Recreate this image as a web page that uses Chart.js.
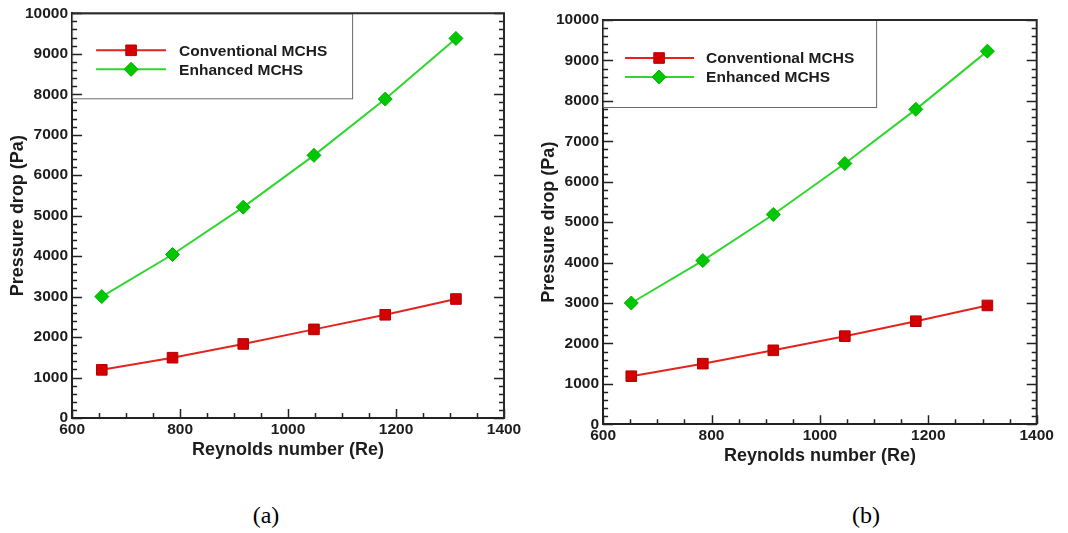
<!DOCTYPE html>
<html lang="en">
<head>
<meta charset="UTF-8" />
<title>Pressure drop vs Reynolds number</title>
<script src="https://cdn.jsdelivr.net/npm/chart.js"></script>
<style>
  html, body { margin: 0; padding: 0; background: #fff; }
  body { width: 1068px; height: 533px; position: relative; overflow: hidden; }
  .panel { position: absolute; top: 0; height: 480px; }
  #panelA { left: 0; width: 534px; }
  #panelB { left: 531px; width: 537px; }
  .caption {
    position: absolute; top: 502px; transform: translateX(-50%);
    font-family: "Liberation Serif", "Times New Roman", serif; font-size: 24px; color: #000;
  }
</style>
</head>
<body>
<div class="panel" id="panelA"><canvas id="chartA"></canvas></div>
<div class="panel" id="panelB"><canvas id="chartB"></canvas></div>
<div class="caption" style="left:266px">(a)</div>
<div class="caption" style="left:866px">(b)</div>

<script>
  // values
  const seriesNames = ['Conventional MCHS', 'Enhanced MCHS'];
  const reA = [655, 786, 917, 1048, 1180, 1311];
  const conventionalA = [1190, 1490, 1830, 2190, 2550, 2940];
  const enhancedA = [3000, 4040, 5210, 6490, 7880, 9380];
  const reB = [652, 784, 914, 1046, 1177, 1309];
  const conventionalB = [1190, 1500, 1830, 2180, 2550, 2940];
  const enhancedB = [3000, 4050, 5190, 6450, 7790, 9230];
  const xTicks = [600, 800, 1000, 1200, 1400];
  const yTicks = [0, 1000, 2000, 3000, 4000, 5000, 6000, 7000, 8000, 9000, 10000];

  const FONT = '"Liberation Sans", Arial, sans-serif';
  const INK = '#1c1c1c';
  const RED_LINE = '#e3231d', RED_PT = '#d20000';
  const GREEN_LINE = '#2fd62f', GREEN_PT = '#00c800';

  // inward ticks on left / right / bottom, frame, and the boxed legend
  const framePlugin = {
    id: 'frame',
    afterDraw(chart, args, opts) {
      const ctx = chart.ctx;
      const { left, right, top, bottom } = chart.chartArea;
      const xs = chart.scales.x, ys = chart.scales.y;
      const lg = opts.legend;

      ctx.save();
      // legend box
      ctx.fillStyle = '#fff';
      ctx.fillRect(left, top, lg.w, lg.h);
      ctx.strokeStyle = '#6a6a6a';
      ctx.lineWidth = 1;
      ctx.strokeRect(left + 0.5, top + 0.5, lg.w, lg.h);

      chart.data.datasets.forEach((ds, i) => {
        const yy = top + lg.rows[i];
        ctx.strokeStyle = ds.borderColor;
        ctx.lineWidth = 2;
        ctx.beginPath();
        ctx.moveTo(left + lg.lineFrom, yy);
        ctx.lineTo(left + lg.lineTo, yy);
        ctx.stroke();
        ctx.fillStyle = ds.pointBackgroundColor;
        ctx.strokeStyle = ds.pointBorderColor;
        ctx.lineWidth = 1;
        Chart.helpers.drawPoint(ctx, {
          pointStyle: ds.pointStyle, radius: ds.pointRadius, borderWidth: 1, rotation: 0
        }, left + lg.marker, yy);
        ctx.fillStyle = INK;
        ctx.font = 'bold 15.5px ' + FONT;
        ctx.textBaseline = 'middle';
        ctx.textAlign = 'left';
        ctx.fillText(ds.label, left + lg.text, yy + 1);
      });

      // ticks
      ctx.strokeStyle = '#222';
      ctx.lineWidth = 1.5;
      ctx.beginPath();
      for (let v = xs.min; v <= xs.max; v += 50) {
        const px = Math.round(xs.getPixelForValue(v)) + 0.5;
        const len = v % 200 === 0 ? 9 : 5;
        ctx.moveTo(px, bottom);
        ctx.lineTo(px, bottom - len);
      }
      for (let v = ys.min; v <= ys.max; v += 200) {
        const py = Math.round(ys.getPixelForValue(v)) + 0.5;
        const len = v % 1000 === 0 ? 10 : 5;
        ctx.moveTo(left, py);
        ctx.lineTo(left + len, py);
        ctx.moveTo(right, py);
        ctx.lineTo(right - len, py);
      }
      ctx.stroke();

      // top and right frame
      ctx.strokeStyle = '#2a2a2a';
      ctx.lineWidth = 2;
      ctx.beginPath();
      ctx.moveTo(left, top);
      ctx.lineTo(right, top);
      ctx.lineTo(right, bottom);
      ctx.stroke();
      ctx.restore();
    }
  };

  function makeChart(canvasId, re, conv, enh, pad, legend) {
    const toPoints = (ys) => re.map((x, i) => ({ x: x, y: ys[i] }));
    return new Chart(document.getElementById(canvasId), {
      type: 'line',
      data: {
        datasets: [
          {
            label: seriesNames[0], data: toPoints(conv),
            borderColor: RED_LINE, borderWidth: 2,
            pointStyle: 'rect', pointRadius: 7.5,
            pointBackgroundColor: RED_PT, pointBorderColor: '#b80000', pointBorderWidth: 1
          },
          {
            label: seriesNames[1], data: toPoints(enh),
            borderColor: GREEN_LINE, borderWidth: 2,
            pointStyle: 'rectRot', pointRadius: 7,
            pointBackgroundColor: GREEN_PT, pointBorderColor: '#00b000', pointBorderWidth: 1
          }
        ]
      },
      options: {
        responsive: true,
        maintainAspectRatio: false,
        animation: false,
        layout: { padding: pad },
        plugins: {
          legend: { display: false },
          tooltip: { enabled: false },
          frame: { legend: legend }
        },
        scales: {
          x: {
            type: 'linear', min: 600, max: 1400,
            afterBuildTicks: (scale) => { scale.ticks = xTicks.map(v => ({ value: v })); },
            ticks: {
              color: INK, padding: 2, maxRotation: 0, autoSkip: false,
              callback: (v) => String(v),
              font: { family: FONT, size: 15.5, weight: 'bold' }
            },
            grid: { display: false, drawTicks: false },
            border: { display: true, color: '#222', width: 2 },
            title: {
              display: true, text: 'Reynolds number (Re)', color: INK,
              font: { family: FONT, size: 18, weight: 'bold', lineHeight: 1 },
              padding: { top: 0, bottom: 0 }
            }
          },
          y: {
            type: 'linear', min: 0, max: 10000,
            afterBuildTicks: (scale) => { scale.ticks = yTicks.map(v => ({ value: v })); },
            ticks: {
              color: INK, padding: 4,
              callback: (v) => String(v),
              font: { family: FONT, size: 15.5, weight: 'bold' }
            },
            grid: { display: false, drawTicks: false },
            border: { display: true, color: '#222', width: 2 },
            title: {
              display: true, text: 'Pressure drop (Pa)', color: INK,
              font: { family: FONT, size: 18, weight: 'bold', lineHeight: 1 },
              padding: { top: 9, bottom: -6 }
            }
          }
        }
      },
      plugins: [framePlugin]
    });
  }

  makeChart('chartA', reA, conventionalA, enhancedA,
    { left: 0, top: 13, right: 30, bottom: 21.4 },
    { w: 280, h: 85, rows: [37, 56], lineFrom: 24, lineTo: 94, marker: 59, text: 107 });

  makeChart('chartB', reB, conventionalB, enhancedB,
    { left: 0, top: 20, right: 31.3, bottom: 15.1 },
    { w: 273, h: 87, rows: [38, 57], lineFrom: 22, lineTo: 91, marker: 56, text: 103 });
</script>
</body>
</html>
